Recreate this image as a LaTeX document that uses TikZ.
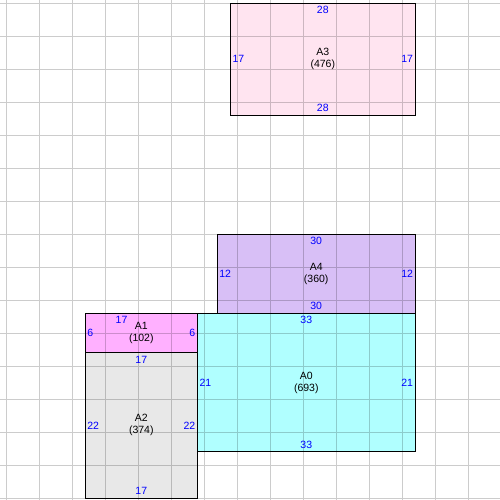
\documentclass[tikz,border=0pt]{standalone}
\usepackage{fontspec}
\setmainfont{Liberation Sans}
\definecolor{cA0}{RGB}{176,255,255}
\definecolor{cA1}{RGB}{255,176,255}
\definecolor{cA2}{RGB}{232,232,232}
\definecolor{cA3}{RGB}{255,228,240}
\definecolor{cA4}{RGB}{216,191,246}
\begin{document}
\begin{tikzpicture}[x=6.6pt,y=6.6pt,
  box/.style={draw=black,line width=0.9pt},
  gridline/.style={draw=black,draw opacity=0.2,line width=0.8pt},
  txt/.style={font=\fontsize{10.5}{12}\selectfont,inner sep=0pt},
  lbl/.style={txt,text=blue},
  ctr/.style={txt,align=center,text=black},
  tl/.style={lbl,anchor=north,yshift=-3pt},
  bl/.style={lbl,anchor=south,yshift=3pt},
  ll/.style={lbl,anchor=west,xshift=2pt},
  rl/.style={lbl,anchor=east,xshift=-2pt}]
\useasboundingbox (-0.9091,-0.3030) rectangle (74.8485,75.4545);
\fill[white] (-0.9091,-0.3030) rectangle (74.8485,75.4545);
% fills
\fill[cA3] (34,58) rectangle (62,75);
\fill[cA4] (32,28) rectangle (62,40);
\fill[cA0] (29,7) rectangle (62,28);
\fill[cA1] (12,22) rectangle (29,28);
\fill[cA2] (12,0) rectangle (29,22);
% grid
\draw[gridline,step=5] (-0.9091,-0.3030) grid (74.8485,75.4545);
% borders
\draw[box] (34,58) rectangle (62,75);
\draw[box] (32,28) rectangle (62,40);
\draw[box] (29,7) rectangle (62,28);
\draw[box] (12,22) rectangle (29,28);
\draw[box] (12,0) rectangle (29,22);
% A3
\node[ctr] (a3) at (48,66.5) {A3\\(476)};
\node[tl] (a3t) at (48,75) {28};
\node[bl] (a3b) at (48,58) {28};
\node[ll] (a3l) at (34,66.5) {17};
\node[rl] (a3r) at (62,66.5) {17};
% A4
\node[ctr] (a4) at (47,34) {A4\\(360)};
\node[tl] (a4t) at (47,40) {30};
\node[bl] (a4b) at (47,28) {30};
\node[ll] (a4l) at (32,34) {12};
\node[rl] (a4r) at (62,34) {12};
% A0
\node[ctr] (a0) at (45.5,17.5) {A0\\(693)};
\node[tl] (a0t) at (45.5,28) {33};
\node[bl] (a0b) at (45.5,7) {33};
\node[ll] (a0l) at (29,17.5) {21};
\node[rl] (a0r) at (62,17.5) {21};
% A1
\node[ctr] (a1) at (20.5,25) {A1\\(102)};
\node[tl] (a1t) at (17.5,28) {17};
\node[ll] (a1l) at (12,25) {6};
\node[rl] (a1r) at (29,25) {6};
% A2
\node[ctr] (a2) at (20.5,11) {A2\\(374)};
\node[tl] (a2t) at (20.5,22) {17};
\node[bl] (a2b) at (20.5,0) {17};
\node[ll] (a2l) at (12,11) {22};
\node[rl] (a2r) at (29,11) {22};
\end{tikzpicture}
\end{document}
